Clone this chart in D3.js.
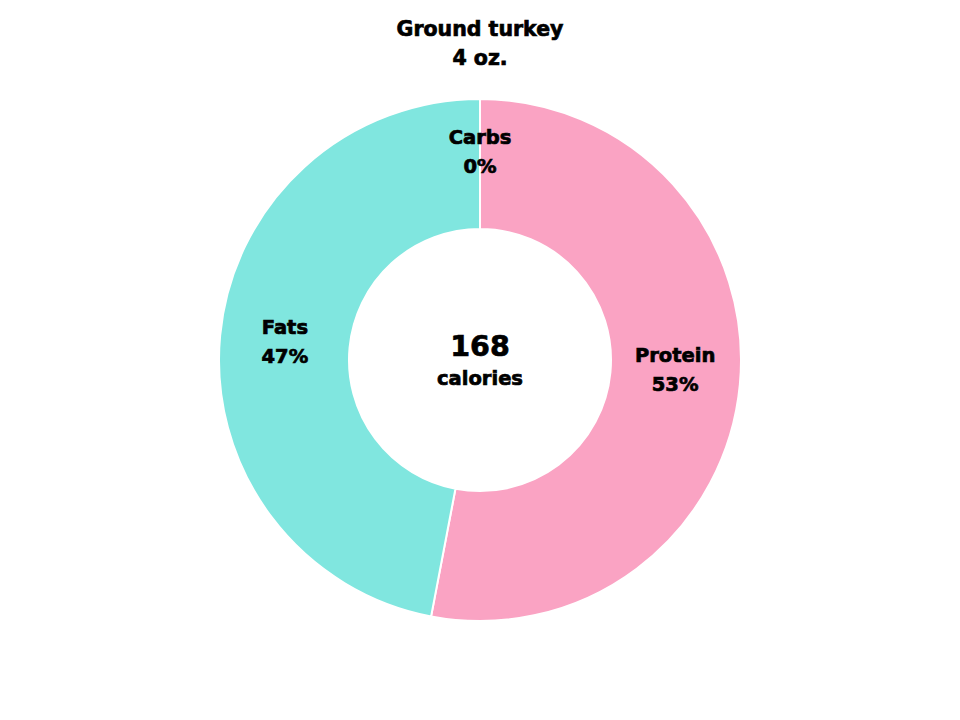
<!DOCTYPE html>
<html><head><meta charset="utf-8">
<script src="https://cdn.jsdelivr.net/npm/d3@7"></script>
<style>body{margin:0;background:#fff}text{font-family:"DejaVu Sans",sans-serif;font-weight:bold;fill:#000;stroke:#000;stroke-width:0.7px}</style>
</head><body>
<svg id="c" width="960" height="720"></svg>
<script>
const categories = ["Protein", "Fats", "Carbs"];
const values = [53, 47, 0];
const colors = ["#FAA3C3", "#80E6DF", "#F5C96B"];
const title = ["Ground turkey", "4 oz."];
const total = "168";
const totalLabel = "calories";

const svg = d3.select("#c");
const cx = 480, cy = 360, R = 261, r = 131;
const g = svg.append("g").attr("transform", `translate(${cx},${cy})`);
const pie = d3.pie().sort(null).value(d => d.v);
const data = pie(categories.map((c, i) => ({c, v: values[i], col: colors[i]})));
const arc = d3.arc().innerRadius(r).outerRadius(R);
g.selectAll("path").data(data).enter().append("path")
  .attr("d", arc).attr("fill", d => d.data.col)
  .attr("stroke", "#fff").attr("stroke-width", 2);
const lab = d3.arc().innerRadius(r).outerRadius(R);
data.forEach(d => {
  const [x, y] = lab.centroid(d);
  const off = d.data.v === 0 ? -12 : (d.index === 0 ? -8 : 0);
  const t = g.append("text").attr("text-anchor", "middle").attr("font-size", 19.5);
  t.append("tspan").attr("x", x).attr("y", y + off - 8).text(d.data.c);
  t.append("tspan").attr("x", x).attr("y", y + off + 21).text(d.data.v + "%");
});
g.append("text").attr("text-anchor", "middle").attr("y", -4).attr("font-size", 28.5).text(total);
g.append("text").attr("text-anchor", "middle").attr("y", 25).attr("font-size", 19.5).text(totalLabel);
svg.append("text").attr("text-anchor", "middle").attr("x", cx).attr("y", 36).attr("font-size", 20.5).text(title[0]);
svg.append("text").attr("text-anchor", "middle").attr("x", cx).attr("y", 65).attr("font-size", 20.5).text(title[1]);
</script>
</body></html>
